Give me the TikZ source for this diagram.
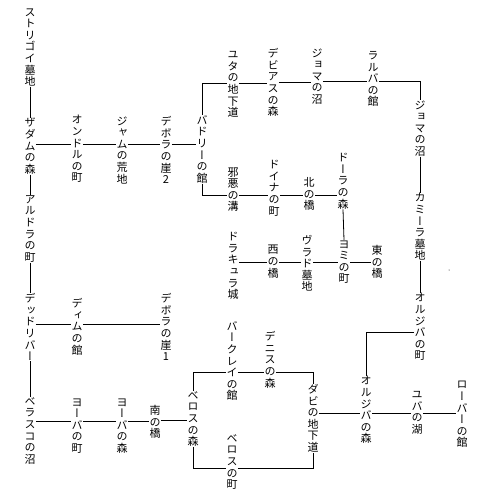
\documentclass[tikz,border=0pt]{standalone}
\usepackage{fontspec}
\newfontfamily\jpfont[RawFeature=+vert]{Noto Sans CJK JP}
\usepackage{tikz}

\begin{document}
\begin{tikzpicture}[x=1pt,y=-1pt,line width=0.8pt,
  tate/.style={anchor=north,inner sep=0pt,align=center,font=\jpfont\fontsize{11}{11.6}\selectfont}]
\useasboundingbox (0,0) rectangle (500,500);
\node[tate] (strigoi) at (30,8) {ス\\ト\\リ\\ゴ\\イ\\墓\\地};
\node[tate] (zadamu) at (30,118) {ザ\\ダ\\ム\\の\\森};
\node[tate] (aldra) at (30,195) {ア\\ル\\ド\\ラ\\の\\町};
\node[tate] (dead) at (30,293) {デ\\ッ\\ド\\リ\\バ\\ー};
\node[tate] (belasco) at (30,397) {ベ\\ラ\\ス\\コ\\の\\沼};
\node[tate] (ondoru) at (77,115) {オ\\ン\\ド\\ル\\の\\町};
\node[tate] (jamu) at (122,116) {ジ\\ャ\\ム\\の\\荒\\地};
\node[tate] (debora2) at (166,116) {デ\\ボ\\ラ\\の\\崖\\2};
\node[tate] (badori) at (202,115) {バ\\ド\\リ\\ー\\の\\館};
\node[tate] (yuta) at (233,51) {ユ\\タ\\の\\地\\下\\道};
\node[tate] (debias) at (273,48) {デ\\ビ\\ア\\ス\\の\\森};
\node[tate] (joma1) at (317,48) {ジ\\ョ\\マ\\の\\沼};
\node[tate] (ralba) at (373,51) {ラ\\ル\\バ\\の\\館};
\node[tate] (joma2) at (420,100) {ジ\\ョ\\マ\\の\\沼};
\node[tate] (camilla) at (420,193) {カ\\ミ\\ー\\ラ\\墓\\地};
\node[tate] (oruT) at (420,293) {オ\\ル\\ジ\\バ\\の\\町};
\node[tate] (jaaku) at (233,167) {邪\\悪\\の\\溝};
\node[tate] (doina) at (274,160) {ド\\イ\\ナ\\の\\町};
\node[tate] (kita) at (309,177) {北\\の\\橋};
\node[tate] (dora) at (343,153) {ド\\ー\\ラ\\の\\森};
\node[tate] (yomi) at (344,240) {ヨ\\ミ\\の\\町};
\node[tate] (dracula) at (233,232) {ド\\ラ\\キ\\ュ\\ラ\\城};
\node[tate] (nishi) at (273,245) {西\\の\\橋};
\node[tate] (vlad) at (307,235) {ヴ\\ラ\\ド\\墓\\地};
\node[tate] (higashi) at (377,245) {東\\の\\橋};
\node[tate] (dimu) at (77,298) {デ\\ィ\\ム\\の\\館};
\node[tate] (debora1) at (166,293) {デ\\ボ\\ラ\\の\\崖\\1};
\node[tate] (yobaT) at (77,398) {ヨ\\ー\\バ\\の\\町};
\node[tate] (yobaF) at (122,398) {ヨ\\ー\\バ\\の\\森};
\node[tate] (minami) at (155,405) {南\\の\\橋};
\node[tate] (berosuF) at (193,391) {ベ\\ロ\\ス\\の\\森};
\node[tate] (barclay) at (232,321) {バ\\ー\\ク\\レ\\イ\\の\\館};
\node[tate] (dennis) at (270,331) {デ\\ニ\\ス\\の\\森};
\node[tate] (berosuT) at (232,434) {ベ\\ロ\\ス\\の\\町};
\node[tate] (dabi) at (313,384) {ダ\\ビ\\の\\地\\下\\道};
\node[tate] (oruF) at (366,376) {オ\\ル\\ジ\\バ\\の\\森};
\node[tate] (yuba) at (417,391) {ユ\\バ\\の\\湖};
\node[tate] (roba) at (462,381) {ロ\\ー\\バ\\ー\\の\\館};
\coordinate (y81) at (0,81);
\coordinate (y82) at (0,82);
\coordinate (y83) at (0,83);
\coordinate (y144) at (0,144);
\coordinate (y195) at (0,195);
\coordinate (y262) at (0,262);
\coordinate (y324) at (0,324);
\coordinate (y332) at (0,332);
\coordinate (y372) at (0,372);
\coordinate (y413) at (0,413);
\coordinate (y420) at (0,420);
\coordinate (y421) at (0,421);
\coordinate (y468) at (0,468);
\draw (strigoi.south) -- (zadamu.north);
\draw (zadamu.south) -- (aldra.north);
\draw (aldra.south) -- (dead.north);
\draw (dead.south) -- (belasco.north);
\draw (zadamu.east |- y144) -- (ondoru.west |- y144);
\draw (ondoru.east |- y144) -- (jamu.west |- y144);
\draw (jamu.east |- y144) -- (debora2.west |- y144);
\draw (debora2.east |- y144) -- (badori.west |- y144);
\draw (badori.north) |- (yuta.west |- y83);
\draw (yuta.east |- y83) -- (debias.west |- y83);
\draw (debias.east |- y82) -- (joma1.west |- y82);
\draw (joma1.east |- y81) -- (ralba.west |- y81);
\draw (ralba.east |- y81) -| (joma2.north);
\draw (joma2.south) -- (camilla.north);
\draw (camilla.south) -- (oruT.north);
\draw (oruT.west |- y332) -| (oruF.north);
\draw (dabi.east |- y413) -- (oruF.west |- y413);
\draw (oruF.east |- y413) -- (yuba.west |- y413);
\draw (yuba.east |- y413) -- (roba.west |- y413);
\draw (badori.south) |- (jaaku.west |- y195);
\draw (jaaku.east |- y195) -- (doina.west |- y195);
\draw (doina.east |- y195) -- (kita.west |- y195);
\draw (kita.east |- y195) -- (dora.west |- y195);
\draw (dora.south) -- (yomi.north);
\draw (dracula.east |- y262) -- (nishi.west |- y262);
\draw (nishi.east |- y262) -- (vlad.west |- y262);
\draw (vlad.east |- y262) -- (yomi.west |- y262);
\draw (yomi.east |- y262) -- (higashi.west |- y262);
\draw (dead.east |- y324) -- (dimu.west |- y324);
\draw (dimu.east |- y324) -- (debora1.west |- y324);
\draw (belasco.east |- y421) -- (yobaT.west |- y421);
\draw (yobaT.east |- y421) -- (yobaF.west |- y421);
\draw (yobaF.east |- y421) -- (minami.west |- y421);
\draw (minami.east |- y420) -- (berosuF.west |- y420);
\draw (berosuF.north) |- (barclay.west |- y372);
\draw (barclay.east |- y372) -- (dennis.west |- y372);
\draw (dennis.east |- y372) -| (dabi.north);
\draw (berosuF.south) |- (berosuT.west |- y468);
\draw (berosuT.east |- y468) -| (dabi.south);
\fill (449,270) circle (0.5);
\end{tikzpicture}
\end{document}
